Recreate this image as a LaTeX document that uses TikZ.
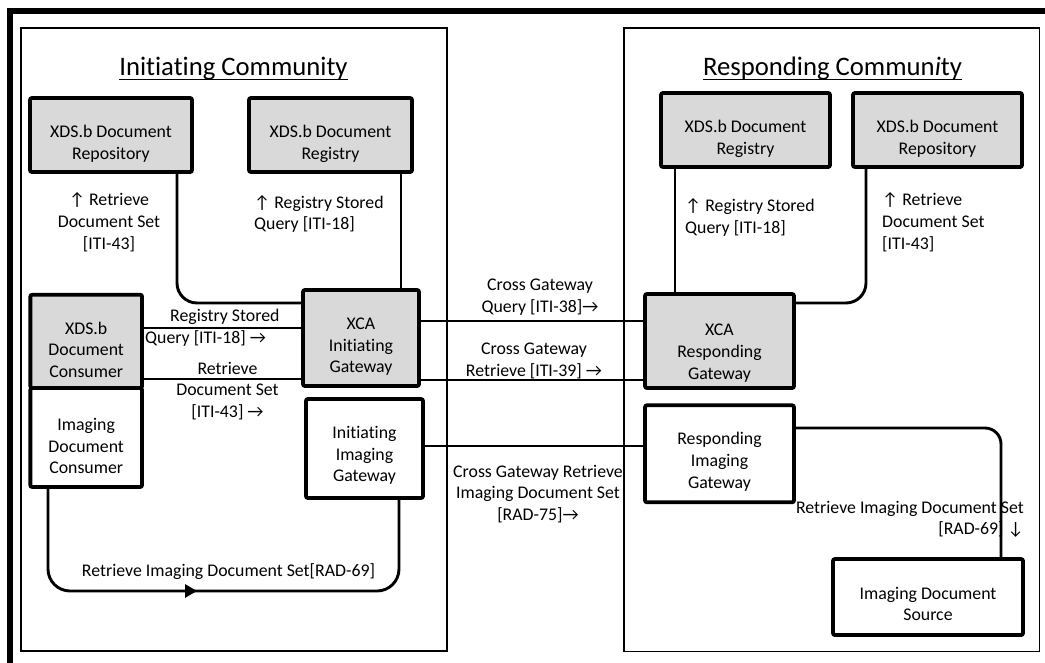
\documentclass[tikz,border=0pt]{standalone}
\usepackage{fontspec}
\setmainfont{Carlito}[RawFeature={-liga;-calt;-dlig}]
\usetikzlibrary{arrows.meta}

\definecolor{boxgray}{RGB}{217,217,217}
\newcommand\boxfont{\fontsize{17.8}{21.7}\selectfont}
\newcommand\titlefont{\fontsize{26.7}{32}\selectfont}
% stacked lines with fixed line pitch
\newcommand\mlines[2]{\begin{tabular}{@{}#1@{}}#2\end{tabular}}
% box text sitting a little below the box centre
\newcommand\boxtext[2]{\raisebox{-#1}[\height][\depth]{\mlines{c}{#2}}}

\tikzset{
  actor/.style={draw, line width=3.8pt, rounded corners=2pt, inner sep=0pt, font=\boxfont},
  grayactor/.style={actor, fill=boxgray},
  conn/.style={line width=2.9pt},
  lbl/.style={inner sep=0pt, font=\boxfont},
  community/.style={draw, line width=1.3pt},
  heading/.style={inner sep=0pt, font=\titlefont, anchor=base},
}

\begin{document}
\begin{tikzpicture}[x=1pt, y=-1pt]
\useasboundingbox (0,0) rectangle (1045,662);
\clip (0,0) rectangle (1045,662);

% outer frame
\draw[line width=6pt] (10,11) rectangle (1080,700);

% community frames
\draw[community] (21,28) rectangle (447,651);
\draw[community] (624,28) rectangle (1039.5,651.5);

% headings
\node[heading] (hinit) at (233.5,75.5) {Initiating Community};
\node[heading] (hresp) at (832.5,75.5) {Responding Commun\textit{i}ty};
\draw[line width=1.8pt] ([yshift=-4pt]hinit.base west) -- ([yshift=-4pt]hinit.base east);
\draw[line width=1.8pt] ([yshift=-4pt]hresp.base west) -- ([yshift=-4pt]hresp.base east);

% initiating community actors
\node[grayactor, minimum width=162pt, minimum height=74pt] (irepo) at (111,135)
  {\boxtext{9pt}{XDS.b Document\\Repository}};
\node[grayactor, minimum width=163pt, minimum height=74pt] (ireg) at (330.5,135)
  {\boxtext{9pt}{XDS.b Document\\Registry}};
\node[grayactor, minimum width=111.7pt, minimum height=93.3pt] (cons) at (86.2,341.35)
  {\boxtext{10.3pt}{XDS.b\\Document\\Consumer}};
\node[actor, minimum width=111.7pt, minimum height=99pt] (imgcons) at (86.2,437.5)
  {\boxtext{10.2pt}{Imaging\\Document\\Consumer}};
\node[grayactor, minimum width=116pt, minimum height=96pt] (xcai) at (361,338)
  {\boxtext{8.7pt}{XCA\\Initiating\\Gateway}};
\node[actor, minimum width=117pt, minimum height=99pt] (iig) at (364.5,448.5)
  {\boxtext{7.2pt}{Initiating\\Imaging\\Gateway}};

% responding community actors
\node[grayactor, minimum width=169pt, minimum height=74pt] (rreg) at (745.5,130)
  {\boxtext{9pt}{XDS.b Document\\Registry}};
\node[grayactor, minimum width=169pt, minimum height=74pt] (rrepo) at (937.5,130)
  {\boxtext{9pt}{XDS.b Document\\Repository}};
\node[grayactor, minimum width=149pt, minimum height=94pt] (xcar) at (719.5,341)
  {\boxtext{12.2pt}{XCA\\Responding\\Gateway}};
\node[actor, minimum width=149pt, minimum height=97pt] (rig) at (719.5,453.8)
  {\boxtext{8.4pt}{Responding\\Imaging\\Gateway}};
\node[actor, minimum width=190pt, minimum height=76pt] (ids) at (928,597)
  {\boxtext{8.6pt}{Imaging Document\\Source}};

% routing points
\coordinate (rtA) at (177,303);
\coordinate (rtB) at (401,0);
\coordinate (rtC) at (0,328);
\coordinate (rtD) at (0,379);
\coordinate (rtE) at (0,321);
\coordinate (rtF) at (0,380);
\coordinate (rtG) at (0,446);
\coordinate (rtH) at (675,0);
\coordinate (rtI) at (866,303);
\coordinate (rtJ) at (1001,428);
\coordinate (rtK) at (48,591);
\coordinate (rtL) at (399,591);
\coordinate (rtM) at (175,591);
\coordinate (rtN) at (197,591);

% initiating community connectors
\draw[conn, rounded corners=20pt] (irepo.south -| rtA) |- (xcai.west |- rtA);
\draw[conn] (ireg.south -| rtB) -- (xcai.north -| rtB);
\draw[conn] (cons.east |- rtC) -- (xcai.west |- rtC);
\draw[conn] (cons.east |- rtD) -- (xcai.west |- rtD);
\draw[conn, rounded corners=22pt] (imgcons.south -| rtK) -- (rtK) -- (rtL) -- (iig.south -| rtL);
\draw[conn, -{Triangle[length=12pt,width=13pt]}] (rtM) -- (rtN);

% cross-community connectors
\draw[conn] (xcai.east |- rtE) -- (xcar.west |- rtE);
\draw[conn] (xcai.east |- rtF) -- (xcar.west |- rtF);
\draw[conn] (iig.east |- rtG) -- (rig.west |- rtG);

% responding community connectors
\draw[conn] (rreg.south -| rtH) -- (xcar.north -| rtH);
\draw[conn, rounded corners=20pt] (rrepo.south -| rtI) |- (xcar.east |- rtI);
\draw[conn, rounded corners=16pt] (rig.east |- rtJ) -| (ids.north -| rtJ);

% transaction labels, initiating side
\node[lbl] (l1) at (109,223.2) {\mlines{c}{↑ Retrieve\\Document Set\\{[ITI-43]}}};
\node[lbl, anchor=west] (l2) at (254,214.7) {\mlines{l}{↑ Registry Stored\\Query [ITI-18]}};
\node[lbl, anchor=west] (l3) at (145,328) {\mlines{l}{\hspace*{25pt}Registry Stored\\Query [ITI-18] →}};
\node[lbl] (l4) at (227.5,391.6) {\mlines{c}{Retrieve\\Document Set\\{[ITI-43]} →}};
\node[lbl, anchor=base] (l5) at (228.5,576.5) {Retrieve Imaging Document Set[RAD-69]};

% transaction labels, between communities
\node[lbl] (l6) at (540,297.3) {\mlines{c}{Cross Gateway\\Query [ITI-38]→}};
\node[lbl] (l7) at (534,361.3) {\mlines{c}{Cross Gateway\\Retrieve [ITI-39] →}};
\node[lbl] (l8) at (538,494.5) {\mlines{c}{Cross Gateway Retrieve\\Imaging Document Set\\{[RAD-75]}→}};

% transaction labels, responding side
\node[lbl, anchor=west] (l9) at (685,218) {\mlines{l}{↑ Registry Stored\\Query [ITI-18]}};
\node[lbl, anchor=west] (l10) at (882,223.2) {\mlines{l}{↑ Retrieve\\Document Set\\{[ITI-43]}}};
\node[lbl, anchor=east] (l11) at (1024,519.7) {\mlines{r}{Retrieve Imaging Document Set\\{[RAD-69]} ↓}};
\end{tikzpicture}
\end{document}
